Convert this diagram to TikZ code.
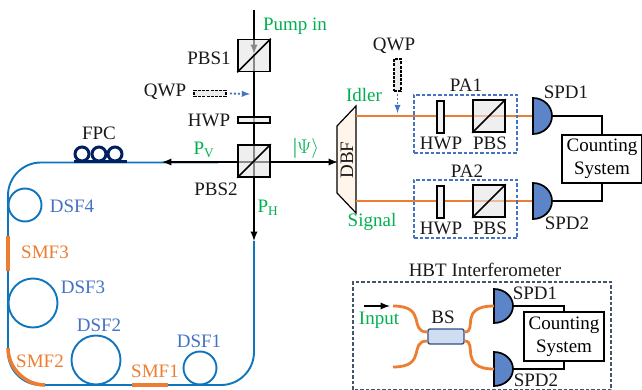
\documentclass[tikz,border=0pt]{standalone}
\usepackage{fontspec}
\setmainfont{Liberation Serif}
\usetikzlibrary{calc}
\usetikzlibrary{shapes.geometric, arrows, positioning}

\definecolor{fibreblue}{HTML}{0F75BD}
\definecolor{fibreorange}{HTML}{ED7D31}
\definecolor{labelblue}{HTML}{4472C4}
\definecolor{labelgreen}{HTML}{00B050}
\definecolor{spdblue}{HTML}{5B84C9}
\definecolor{navy}{HTML}{002060}
\definecolor{slate}{HTML}{44546A}

\tikzset{
    lab/.style={font=\fontsize{19}{19}\selectfont, inner sep=0pt, text=black!90},
    bluelab/.style={lab, text=labelblue},
    orangelab/.style={lab, text=fibreorange},
    greenlab/.style={lab, text=labelgreen},
    beam/.style={line width=2.2pt, black},
    fibre/.style={line width=1.9pt, fibreblue},
    smf/.style={line width=3.6pt, fibreorange},
    idler/.style={line width=2.8pt, fibreorange},
    wire/.style={line width=2pt, black},
    cube/.style={draw, line width=1.7pt, fill=gray!20, fill opacity=0.6, minimum size=32pt, inner sep=0pt},
    plate/.style={draw, line width=1.6pt, fill=gray!15, inner sep=0pt},
    dashedplate/.style={plate, dashed, dash pattern=on 3pt off 1.2pt},
    pabox/.style={draw=labelblue, line width=1.3pt, dashed, dash pattern=on 3.5pt off 2pt},
    countbox/.style={draw, line width=2pt, fill=white, inner sep=0pt, align=center, font=\fontsize{19}{23}\selectfont},
    probe/.style={labelblue, line width=1.8pt, dash pattern=on 2pt off 2pt, -latex}
}

\begin{document}
\begin{tikzpicture}[x=1pt,y=-1pt]
\useasboundingbox (0,0) rectangle (642,390);

% free ends of the beams
\coordinate (pumpin) at (254,10);
\coordinate (pumptip) at (254,54);
\coordinate (vtip) at (162,162);
\coordinate (htip) at (254,241);
\coordinate (dbfin) at (338,162);
\coordinate (idlerin) at (356,116);
\coordinate (signalin) at (356,201);

% Fibre loop
\draw[fibre,rounded corners=33pt] (218,162.5) -- (8,162.5) -- (8,385) -- (254,385) -- (htip);
\foreach \name/\x/\y/\r in {dsffour/25/205/16.5, dsfthree/33/303/24.5, dsftwo/96/360/24.5, dsfone/200/368/16.5}
{
    \draw[fibre] (\x,\y) circle (\r);
    \coordinate (\name) at (\x,\y);
}
\draw[smf] (132,385) -- (168,385);
\draw[smf] (8,236) -- (8,271);
\draw[smf] (8,348) .. controls (8,368) and (25,385) .. (45,385);

% Beams, under the cubes
\draw[beam,-latex] (pumpin) -- (pumptip);
\draw[beam] (pumptip) -- (254,162);
\draw[beam,-latex] (254,162) -- (vtip);
\draw[beam,-latex] (254,162) -- (htip);
\draw[beam,-latex] (254,162) -- (dbfin);

% FPC
\foreach \x in {82,99,115}
{
    \draw[navy,line width=3pt] (\x,154) circle (7);
}
\draw[navy,line width=3pt] (74,162) -- (127,162);

% Optics on the pump line
\node[cube] (pbsone) at (254,55.5) {};
\draw[line width=1.7pt] (pbsone.south west) -- (pbsone.north east);
\node[cube] (pbstwo) at (254,161) {};
\draw[line width=1.7pt] (pbstwo.south west) -- (pbstwo.north east);
\node[plate,minimum width=32pt,minimum height=6pt,fill opacity=0.7] (hwpzero) at (254,120) {};
\node[dashedplate,minimum width=32pt,minimum height=6pt] (qwpzero) at (210,93.5) {};
\coordinate (qwptip) at (250,94);
\draw[probe] (qwpzero.east) ++(3,0) -- (qwptip);

% DBF
\draw[line width=1.2pt,fill=orange!8] (356,106) -- (337,126) -- (337,193) -- (356,213) -- cycle;
\node[lab,rotate=90] (dbf) at (347,160) {DBF};

% Idler and signal arms
\draw[idler] (idlerin) -- (533,116);
\draw[idler] (signalin) -- (533,201);
\foreach \name/\y in {paone/116, patwo/201}
{
    \node[pabox,minimum width=103pt,minimum height=58pt,inner sep=0pt] (\name) at (465.5,\y+8) {};
    \node[plate,minimum width=7pt,minimum height=32pt,fill=gray!10] (\name hwp) at (440.5,\y+1) {};
    \node[cube] (\name pbs) at (489,\y) {};
    \draw[line width=1.7pt] (\name pbs.south west) -- (\name pbs.north east);
    \node[lab] at (441,\y+27) {HWP};
    \node[lab] at (490,\y+27) {PBS};
}
\node[dashedplate,minimum width=7pt,minimum height=32pt] (qwpone) at (397.5,75) {};
\coordinate (qwponetip) at (397.5,113);
\draw[probe] (qwpone.south) ++(0,2) -- (qwponetip);

% Detectors
\foreach \name/\x/\y/\h in {spdone/533/116/18, spdtwo/533/201/18, spdthree/494/306/17, spdfour/494/369/17}
{
    \draw[line width=1.7pt,fill=spdblue] (\x,\y-\h) arc[start angle=-90,end angle=90,x radius=19,y radius=\h] -- cycle;
    \coordinate (\name) at (\x+19,\y);
}

% Counting system
\node[countbox,minimum width=80pt,minimum height=48pt] (count) at (602,159) {Counting\\System};
\draw[wire] (spdone) -| (count.north);
\draw[wire] (spdtwo) -| (count.south);

% HBT box
\draw[draw=slate,line width=1.3pt,dashed,dash pattern=on 3.5pt off 2pt] (353,389.5) rectangle (611,282);
\node[countbox,minimum width=80pt,minimum height=49pt] (counthbt) at (564,336.5) {Counting\\System};
\draw[wire] (spdthree) -| (counthbt.north);
\draw[wire] (spdfour) -| (counthbt.south);
\node[draw=labelblue!70!black,line width=1.4pt,fill=labelblue!25,rounded corners=2pt,minimum width=36pt,minimum height=15pt,inner sep=0pt] (bs) at (446,336.5) {};
\coordinate (inputa) at (364,306);
\coordinate (inputb) at (390,306);
\draw[line width=2.2pt,-latex] (inputa) -- (inputb);
\coordinate (bsa) at (393,306);
\coordinate (bsb) at (393,367);
\draw[idler] (bsa) .. controls (428,306) and (408,332) .. (bs.west |- 0,332);
\draw[idler] (bsb) .. controls (428,367) and (408,341) .. (bs.west |- 0,341);
\draw[idler] (bs.east |- 0,332) .. controls (478,332) and (458,306) .. (494,306);
\draw[idler] (bs.east |- 0,341) .. controls (478,341) and (458,369) .. (494,369);

% Labels
\node[greenlab] (pumplab) at (295,26) {Pump in};
\node[lab] at (209,58) {PBS1};
\node[lab] at (165,92) {QWP};
\node[lab] at (209,120) {HWP};
\node[lab] at (99,133) {FPC};
\node[lab] at (216,189) {PBS2};
\node[greenlab] at (204,150) {P\textsubscript{V}};
\node[greenlab] at (268,208) {P\textsubscript{H}};
\node[greenlab,scale=1.15] at (306,148) {|$\Psi\rangle$};
\node[lab] at (394,46) {QWP};
\node[greenlab] at (364,95) {Idler};
\node[greenlab] at (372,222) {Signal};
\node[lab] at (466,85) {PA1};
\node[lab] at (467,171) {PA2};
\node[lab] at (566,92) {SPD1};
\node[lab] at (567,223) {SPD2};
\node[bluelab] at (72,206) {DSF4};
\node[orangelab] at (45,252) {SMF3};
\node[bluelab] at (83,287) {DSF3};
\node[bluelab] at (99,325) {DSF2};
\node[orangelab] at (40,361) {SMF2};
\node[orangelab] at (155,371) {SMF1};
\node[bluelab] at (199,341) {DSF1};
\node[lab] at (485,270) {HBT Interferometer};
\node[greenlab] at (379,320) {Input};
\node[lab] at (443,317) {BS};
\node[lab] at (535,293) {SPD1};
\node[lab] at (536,380) {SPD2};

\end{tikzpicture}
\end{document}
